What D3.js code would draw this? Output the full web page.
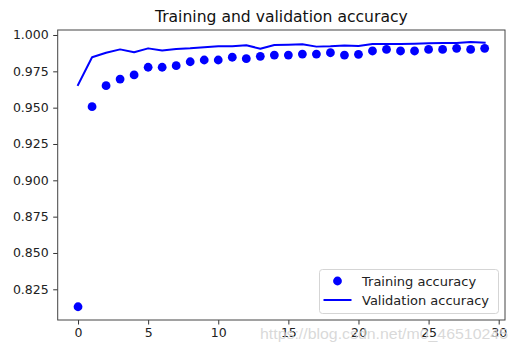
<!DOCTYPE html>
<html>
<head>
<meta charset="utf-8">
<script src="https://cdn.jsdelivr.net/npm/d3@7"></script>
<style>
  html, body { margin: 0; padding: 0; background: #fff; }
  svg { display: block; }
</style>
</head>
<body>
<svg id="chart" width="515" height="352"></svg>
<script>
const epochs = d3.range(0, 30);
const trainingAccuracy = [0.8130, 0.9507, 0.9651, 0.9697, 0.9725, 0.9778, 0.9778, 0.9789, 0.9816, 0.9828,
  0.9828, 0.9847, 0.9837, 0.9853, 0.9862, 0.9862, 0.9869, 0.9869, 0.9878, 0.9862,
  0.9867, 0.9890, 0.9901, 0.9890, 0.9890, 0.9901, 0.9901, 0.9908, 0.9901, 0.9908];
const validationAccuracy = [0.9656, 0.9847, 0.9878, 0.9901, 0.9881, 0.9908, 0.9894, 0.9904, 0.9908, 0.9916,
  0.9922, 0.9922, 0.9929, 0.9906, 0.9931, 0.9933, 0.9936, 0.9920, 0.9922, 0.9928,
  0.9924, 0.9938, 0.9938, 0.9938, 0.9940, 0.9943, 0.9945, 0.9945, 0.9952, 0.9947];
const xTicks = [0, 5, 10, 15, 20, 25, 30];
const yTicks = [0.825, 0.850, 0.875, 0.900, 0.925, 0.950, 0.975, 1.000];
const titleText = "Training and validation accuracy";
const legendLabels = ["Training accuracy", "Validation accuracy"];
const watermark = "https://blog.csdn.net/m0_46510245";

const svg = d3.select("#chart");
const L = 57.7, T = 30, R = 505, B = 320;
const x = d3.scaleLinear().domain([-1.45, 30.45]).range([L, R]);
const y = d3.scaleLinear().domain([0.80388, 1.00344]).range([B, T]);
const font = "'DejaVu Sans', sans-serif";
const blue = "#0000ff";

// validation line
svg.append("path")
  .datum(epochs.map((e, i) => [e, validationAccuracy[i]]))
  .attr("fill", "none").attr("stroke", blue).attr("stroke-width", 2)
  .attr("stroke-linejoin", "round").attr("stroke-linecap", "square")
  .attr("d", d3.line().x(d => x(d[0])).y(d => y(d[1])));

// training dots
svg.append("g").selectAll("circle").data(epochs).join("circle")
  .attr("cx", d => x(d)).attr("cy", (d, i) => y(trainingAccuracy[i]))
  .attr("r", 4.4).attr("fill", blue);

// axes
const xAxis = d3.axisBottom(x).tickValues(xTicks).tickSize(4.5).tickPadding(4).tickFormat(d3.format("d"));
const yAxis = d3.axisLeft(y).tickValues(yTicks).tickSize(4.5).tickPadding(4.5).tickFormat(d3.format(".3f"));
const gx = svg.append("g").attr("transform", `translate(0,${B})`).call(xAxis);
const gy = svg.append("g").attr("transform", `translate(${L},0)`).call(yAxis);
[gx, gy].forEach(g => {
  g.select(".domain").remove();
  g.selectAll(".tick line").attr("stroke", "#333").attr("stroke-width", 1);
  g.selectAll(".tick text").attr("fill", "#222").style("font-family", font).style("font-size", "12.5px");
});

// frame
svg.append("rect").attr("x", L).attr("y", T).attr("width", R - L).attr("height", B - T)
  .attr("fill", "none").attr("stroke", "#444").attr("stroke-width", 1);

// title
svg.append("text").attr("x", (L + R) / 2).attr("y", 22).attr("text-anchor", "middle")
  .style("font-family", font).style("font-size", "15.6px").attr("fill", "#111").text(titleText);

// legend
const lg = svg.append("g");
lg.append("rect").attr("x", 319.5).attr("y", 269.5).attr("width", 179).attr("height", 44).attr("rx", 3)
  .attr("fill", "#fff").attr("fill-opacity", 0.85).attr("stroke", "#d5d5d5");
lg.append("circle").attr("cx", 337.5).attr("cy", 281).attr("r", 4.4).attr("fill", blue);
lg.append("line").attr("x1", 323.5).attr("x2", 351.5).attr("y1", 300).attr("y2", 300)
  .attr("stroke", blue).attr("stroke-width", 2);
legendLabels.forEach((t, i) => {
  lg.append("text").attr("x", 362).attr("y", 281 + i * 19).attr("dy", "0.36em")
    .style("font-family", font).style("font-size", "13px").attr("fill", "#222").text(t);
});

// watermark
svg.append("text").attr("x", 260).attr("y", 339).attr("textLength", 248).attr("lengthAdjust", "spacingAndGlyphs")
  .style("font-family", "'Liberation Sans', Arial, sans-serif").style("font-size", "15px")
  .attr("fill", "#d2d2d2").attr("fill-opacity", 0.85).text(watermark);
</script>
</body>
</html>
